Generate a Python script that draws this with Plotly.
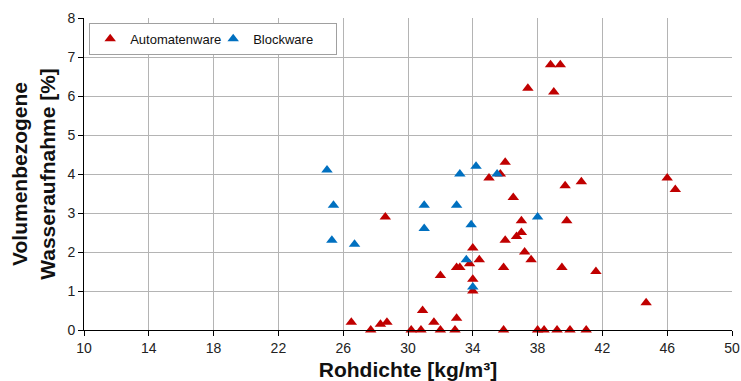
import plotly.graph_objects as go

# Automatenware: Rohdichte [kg/m³] / volumenbezogene Wasseraufnahme [%]
auto_x = [38.8, 39.4, 37.4, 39.0, 36.0, 35.7, 35.0, 36.5, 28.6, 37.0, 37.0, 36.7,
          36.0, 34.0, 37.2, 37.6, 34.4, 33.0, 33.2, 33.8, 35.9, 32.0, 34.0, 34.0,
          39.5, 26.5, 27.7, 28.3, 28.7, 30.2, 30.8, 30.9, 31.6, 32.0, 32.9, 33.0,
          35.9, 38.0, 38.4, 39.2, 40.0, 41.0, 39.7, 40.7, 46.0, 46.5, 39.8, 41.6,
          44.7]
auto_y = [6.8, 6.8, 6.2, 6.1, 4.3, 4.0, 3.9, 3.4, 2.9, 2.8, 2.5, 2.4,
          2.3, 2.1, 2.0, 1.8, 1.8, 1.6, 1.6, 1.7, 1.6, 1.4, 1.3, 1.0,
          1.6, 0.2, 0.0, 0.15, 0.2, 0.0, 0.0, 0.5, 0.2, 0.0, 0.0, 0.3,
          0.0, 0.0, 0.0, 0.0, 0.0, 0.0, 3.7, 3.8, 3.9, 3.6, 2.8, 1.5,
          0.7]

# Blockware
block_x = [25.0, 25.4, 25.3, 26.7, 31.0, 31.0, 33.0, 33.2, 34.2, 33.9, 33.6, 34.0, 35.5, 38.0]
block_y = [4.1, 3.2, 2.3, 2.2, 3.2, 2.6, 3.2, 4.0, 4.2, 2.7, 1.8, 1.1, 4.0, 2.9]

RED = "#C00000"
BLUE = "#0070C0"
FONT = "Liberation Sans, Arial, sans-serif"

fig = go.Figure()
fig.add_trace(go.Scatter(
    x=auto_x, y=auto_y, mode="markers", name="Automatenware",
    marker=dict(symbol="triangle-up", size=10, color=RED),
    cliponaxis=False,
))
fig.add_trace(go.Scatter(
    x=block_x, y=block_y, mode="markers", name="Blockware",
    marker=dict(symbol="triangle-up", size=10, color=BLUE),
    cliponaxis=False,
))

fig.update_layout(
    width=741, height=381,
    margin=dict(l=84, r=9, t=18, b=51),
    paper_bgcolor="white", plot_bgcolor="white",
    font=dict(family=FONT, size=14, color="#222222"),
    showlegend=True,
    legend=dict(
        x=0.008, y=0.985, xanchor="left", yanchor="top",
        orientation="h",
        bgcolor="white", bordercolor="#a0a0a0", borderwidth=1,
        font=dict(family=FONT, size=13, color="#111111"),
        itemwidth=30, tracegroupgap=0,
        entrywidth=78, entrywidthmode="pixels",
    ),
    xaxis=dict(
        range=[10, 50], tick0=10, dtick=4,
        showgrid=True, gridcolor="#b4b4b4", gridwidth=1,
        showline=True, linecolor="#000000", linewidth=1,
        ticks="outside", ticklen=5, tickcolor="#000000",
        zeroline=False, automargin=False,
        title=dict(text="<b>Rohdichte [kg/m³]</b>", font=dict(family=FONT, size=21, color="#111111"),
                   standoff=12),
    ),
    yaxis=dict(
        range=[0, 8], tick0=0, dtick=1,
        showgrid=True, gridcolor="#b4b4b4", gridwidth=1,
        showline=True, linecolor="#000000", linewidth=1,
        ticks="outside", ticklen=5, tickcolor="#000000",
        zeroline=False, automargin=False,
        title=dict(text="<b>Volumenbezogene<br>Wasseraufnahme [%]</b>",
                   font=dict(family=FONT, size=21, color="#111111"), standoff=6),
    ),
)

fig.write_html("out.html")
